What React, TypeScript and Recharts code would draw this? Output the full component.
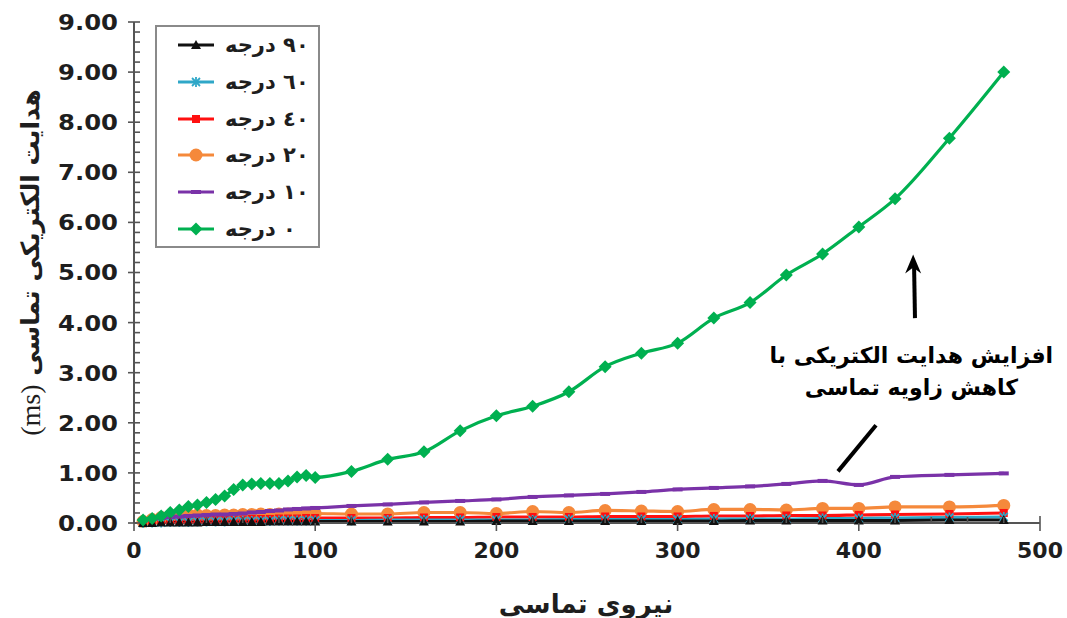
import React from 'react';
import { LineChart, Line, XAxis, YAxis, Legend, ReferenceLine, ReferenceDot } from 'recharts';

// ---------- data ----------
const forceValues = [5, 10, 15, 20, 25, 30, 35, 40, 45, 50, 55, 60, 65, 70, 75, 80, 85, 90, 95, 100,
  120, 140, 160, 180, 200, 220, 240, 260, 280, 300, 320, 340, 360, 380, 400, 420, 450, 480];

const deg0 = [0.06, 0.09, 0.14, 0.21, 0.26, 0.33, 0.36, 0.41, 0.47, 0.54, 0.67, 0.76, 0.78, 0.79, 0.79, 0.79, 0.84, 0.92, 0.95, 0.91,
  1.03, 1.27, 1.42, 1.84, 2.14, 2.33, 2.62, 3.12, 3.39, 3.59, 4.09, 4.40, 4.95, 5.37, 5.91, 6.47, 7.68, 9.00];
const deg10 = [0.05, 0.08, 0.10, 0.12, 0.13, 0.14, 0.15, 0.16, 0.17, 0.17, 0.18, 0.19, 0.21, 0.22, 0.24, 0.25, 0.27, 0.28, 0.29, 0.30,
  0.34, 0.37, 0.41, 0.44, 0.47, 0.52, 0.55, 0.58, 0.62, 0.67, 0.70, 0.73, 0.78, 0.84, 0.76, 0.92, 0.96, 0.99];
const deg20 = [0.03, 0.07, 0.11, 0.14, 0.16, 0.17, 0.16, 0.15, 0.15, 0.16, 0.16, 0.17, 0.17, 0.18, 0.17, 0.18, 0.18, 0.19, 0.19, 0.19,
  0.18, 0.18, 0.21, 0.21, 0.19, 0.23, 0.21, 0.25, 0.24, 0.23, 0.27, 0.27, 0.26, 0.29, 0.29, 0.32, 0.32, 0.35];
const deg40 = [0.00, 0.01, 0.02, 0.03, 0.04, 0.05, 0.05, 0.06, 0.06, 0.07, 0.07, 0.07, 0.08, 0.08, 0.08, 0.09, 0.09, 0.09, 0.10, 0.10,
  0.10, 0.10, 0.11, 0.11, 0.12, 0.12, 0.12, 0.13, 0.13, 0.13, 0.14, 0.14, 0.15, 0.15, 0.16, 0.17, 0.18, 0.20];
const deg60 = [0.00, 0.01, 0.01, 0.02, 0.02, 0.02, 0.03, 0.03, 0.03, 0.03, 0.04, 0.04, 0.04, 0.04, 0.04, 0.05, 0.05, 0.05, 0.05, 0.05,
  0.05, 0.06, 0.06, 0.06, 0.06, 0.06, 0.07, 0.07, 0.07, 0.07, 0.08, 0.08, 0.08, 0.09, 0.09, 0.10, 0.11, 0.12];
const deg90 = [0.00, 0.00, 0.01, 0.01, 0.01, 0.01, 0.01, 0.02, 0.02, 0.02, 0.02, 0.02, 0.02, 0.02, 0.03, 0.03, 0.03, 0.03, 0.03, 0.03,
  0.03, 0.03, 0.03, 0.03, 0.04, 0.04, 0.04, 0.04, 0.04, 0.04, 0.04, 0.05, 0.05, 0.05, 0.05, 0.05, 0.06, 0.06];

const seriesNames = ['٩٠ درجه', '٦٠ درجه', '٤٠ درجه', '٢٠ درجه', '١٠ درجه', '٠ درجه'];
const xTickLabels = ['0', '100', '200', '300', '400', '500'];
const yTickLabels = ['0.00', '1.00', '2.00', '3.00', '4.00', '5.00', '6.00', '7.00', '8.00', '9.00', '9.00'];
const xAxisTitle = 'نیروی تماسی';
const yAxisTitle = 'هدایت الکتریکی تماسی';
const yAxisUnit = '(ms)';
const noteLines = ['افزایش هدایت الکتریکی با', 'کاهش زاویه تماسی'];

const data = forceValues.map((f, i) => ({
  force: f,
  d90: deg90[i], d60: deg60[i], d40: deg40[i], d20: deg20[i], d10: deg10[i], d0: deg0[i],
}));

const FONT = '"DejaVu Sans", sans-serif';
const AXIS = '#555555';
const TEXT = '#1e1e1e';

// ---------- markers ----------
type MK = 'triangle' | 'star' | 'square' | 'circle' | 'dash' | 'diamond';
const Marker = ({ kind, cx, cy, color }: { kind: MK; cx: number; cy: number; color: string }) => {
  switch (kind) {
    case 'triangle':
      return <path d={`M${cx},${cy - 5} L${cx + 5},${cy + 4} L${cx - 5},${cy + 4} Z`} fill={color} />;
    case 'star':
      return (
        <g stroke={color} strokeWidth={1.8}>
          <line x1={cx - 4} y1={cy - 4} x2={cx + 4} y2={cy + 4} />
          <line x1={cx - 4} y1={cy + 4} x2={cx + 4} y2={cy - 4} />
          <line x1={cx} y1={cy - 5} x2={cx} y2={cy + 5} />
        </g>
      );
    case 'square':
      return <rect x={cx - 4} y={cy - 4} width={8} height={8} fill={color} />;
    case 'circle':
      return <circle cx={cx} cy={cy} r={6.5} fill={color} />;
    case 'dash':
      return <rect x={cx - 5} y={cy - 2} width={10} height={4} fill={color} />;
    case 'diamond':
    default:
      return <path d={`M${cx},${cy - 6.5} L${cx + 6.5},${cy} L${cx},${cy + 6.5} L${cx - 6.5},${cy} Z`} fill={color} />;
  }
};

const seriesDefs: { key: string; name: string; color: string; kind: MK }[] = [
  { key: 'd90', name: seriesNames[0], color: '#111111', kind: 'triangle' },
  { key: 'd60', name: seriesNames[1], color: '#2fa7c8', kind: 'star' },
  { key: 'd40', name: seriesNames[2], color: '#ff1010', kind: 'square' },
  { key: 'd20', name: seriesNames[3], color: '#f5893b', kind: 'circle' },
  { key: 'd10', name: seriesNames[4], color: '#7a32a8', kind: 'dash' },
  { key: 'd0', name: seriesNames[5], color: '#00b050', kind: 'diamond' },
];

const drawOrder = ['d20', 'd40', 'd60', 'd90', 'd10', 'd0'];

// ---------- ticks ----------
const yTicks = Array.from({ length: 51 }, (_, i) => Math.round(i * 2) / 10);
const xTicks = Array.from({ length: 26 }, (_, i) => i * 20);

const YTick = (props: any) => {
  const { x, y, payload } = props;
  const v = payload.value as number;
  const major = Math.abs(v - Math.round(v)) < 1e-6;
  return (
    <g>
      <line x1={major ? x - 6 : x} x2={x + 6} y1={y} y2={y} stroke={AXIS} strokeWidth={1.6} />
      {major && (
        <text
          x={x - 16}
          y={y}
          dy="0.36em"
          textAnchor="end"
          fontFamily={FONT}
          fontWeight="bold"
          fontSize={22}
          textLength={60}
          lengthAdjust="spacingAndGlyphs"
          fill={TEXT}
        >
          {yTickLabels[Math.round(v)]}
        </text>
      )}
    </g>
  );
};

const XTick = (props: any) => {
  const { x, y, payload } = props;
  const v = payload.value as number;
  const major = v % 100 === 0;
  return (
    <g>
      {major ? (
        <line x1={x} x2={x} y1={v === 500 ? y - 7 : y} y2={y + 8} stroke={AXIS} strokeWidth={1.6} />
      ) : (
        <line x1={x} x2={x} y1={y - 6} y2={y} stroke={AXIS} strokeWidth={1.6} />
      )}
      {major && (
        <text x={x} y={y + 35} textAnchor="middle" fontFamily={FONT} fontWeight="bold" fontSize={22} fill={TEXT}>
          {xTickLabels[v / 100]}
        </text>
      )}
    </g>
  );
};

const YTitle = (p: any) => {
  const vb = p.viewBox || { x: 0, y: 22, width: 134, height: 501 };
  const cx = vb.x + 30;
  const cy = vb.y + vb.height / 2 - 10;
  return (
    <text
      x={cx}
      y={cy}
      transform={`rotate(-90 ${cx} ${cy})`}
      textAnchor="middle"
      dominantBaseline="central"
      direction="rtl"
      fontFamily={FONT}
      fontWeight="bold"
      fontSize={25}
      fill={TEXT}
    >
      <tspan>{yAxisTitle} </tspan>
      <tspan fontFamily='"Liberation Serif", serif' fontWeight="normal" fontSize={28}>{yAxisUnit}</tspan>
    </text>
  );
};

const XTitle = (p: any) => {
  const vb = p.viewBox || { x: 134, y: 523, width: 906, height: 95 };
  const cx = vb.x + vb.width / 2 - 1;
  const cy = vb.y + 81;
  return (
    <text x={cx} y={cy} textAnchor="middle" dominantBaseline="central" direction="rtl" fontFamily={FONT} fontWeight="bold" fontSize={26} fill={TEXT}>
      {xAxisTitle}
    </text>
  );
};

const LegendBox = () => (
  <div
    style={{
      width: 165,
      height: 223,
      border: '2px solid #8a8a8a',
      boxSizing: 'border-box',
      background: '#fff',
      position: 'relative',
    }}
  >
    {seriesDefs.map((s, i) => (
      <div
        key={s.key}
        style={{ position: 'absolute', left: 20, top: 6 + i * 36.8, height: 24, display: 'flex', alignItems: 'center' }}
      >
        <svg width={38} height={24} style={{ display: 'block' }}>
          <line x1={1} x2={37} y1={12} y2={12} stroke={s.color} strokeWidth={3} />
          <Marker kind={s.kind} cx={19} cy={12} color={s.color} />
        </svg>
        <span
          dir="rtl"
          style={{ marginLeft: 10, fontFamily: FONT, fontWeight: 'bold', fontSize: 21, color: TEXT, whiteSpace: 'nowrap' }}
        >
          {s.name}
        </span>
      </div>
    ))}
  </div>
);

const ArrowHead = (p: any) => {
  const { cx, cy } = p;
  return <path d={`M${cx},${cy} L${cx - 8},${cy + 19} L${cx},${cy + 13} L${cx + 8},${cy + 19} Z`} fill="#000" />;
};

const NoteText = (p: any) => {
  const { cx, cy } = p;
  return (
    <text x={cx} y={cy} textAnchor="middle" direction="rtl" fontFamily={FONT} fontWeight="bold" fontSize={22} fill="#000">
      <tspan x={cx} dy="0">{noteLines[0]}</tspan>
      <tspan x={cx} dy="32">{noteLines[1]}</tspan>
    </text>
  );
};

export default function App() {
  return (
    <div style={{ position: 'absolute', left: 0, top: 0, width: 1067, height: 618, background: '#ffffff' }}>
      <LineChart width={1067} height={618} data={data} margin={{ top: 22, right: 27, bottom: 0, left: 0 }}>
        <XAxis
          dataKey="force"
          type="number"
          domain={[0, 500]}
          ticks={xTicks}
          interval={0}
          tick={<XTick />}
          tickLine={false}
          tickSize={0}
          tickMargin={0}
          height={95}
          axisLine={{ stroke: AXIS, strokeWidth: 2 }}
          label={{ content: (p: any) => <XTitle {...p} /> }}
        />
        <YAxis
          type="number"
          domain={[0, 10]}
          ticks={yTicks}
          interval={0}
          tick={<YTick />}
          tickLine={false}
          tickSize={0}
          tickMargin={0}
          width={134}
          axisLine={{ stroke: AXIS, strokeWidth: 2 }}
          label={{ content: (p: any) => <YTitle {...p} /> }}
        />
        <Legend
          layout="vertical"
          align="center"
          verticalAlign="middle"
          wrapperStyle={{ left: 155, top: 25, width: 165, height: 223 }}
          content={() => <LegendBox />}
        />
        {drawOrder.map((k) => {
          const s = seriesDefs.find((d) => d.key === k)!;
          return (
            <Line
              key={s.key}
              dataKey={s.key}
              name={s.name}
              type="monotone"
              stroke={s.color}
              strokeWidth={3.2}
              isAnimationActive={false}
              dot={(dp: any) => <Marker key={`${s.key}-${dp.index}`} kind={s.kind} cx={dp.cx} cy={dp.cy} color={s.color} />}
              activeDot={false}
            />
          );
        })}
        <ReferenceLine segment={[{ x: 431, y: 4.09 }, { x: 430.5, y: 5.15 }]} stroke="#000" strokeWidth={4} />
        <ReferenceDot x={430} y={5.36} r={0} shape={(p: any) => <ArrowHead {...p} />} />
        <ReferenceLine segment={[{ x: 388.5, y: 1.03 }, { x: 409.5, y: 1.95 }]} stroke="#000" strokeWidth={4} />
        <ReferenceDot x={429} y={3.2} r={0} shape={(p: any) => <NoteText {...p} />} />
      </LineChart>
    </div>
  );
}
